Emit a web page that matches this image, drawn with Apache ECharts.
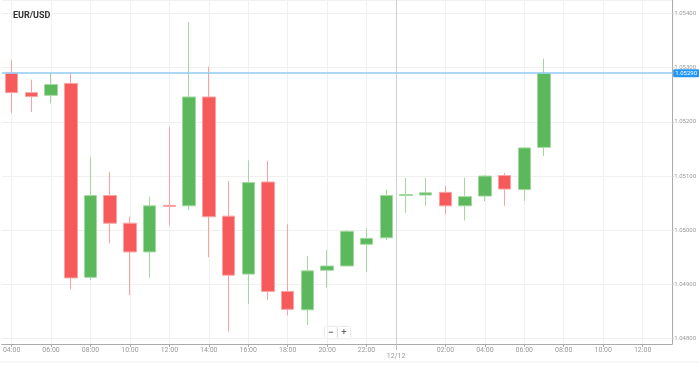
<!DOCTYPE html>
<html>
<head>
<meta charset="utf-8">
<script src="https://cdn.jsdelivr.net/npm/echarts@6/dist/echarts.min.js"></script>
<style>
html,body{margin:0;padding:0;background:#fff;}
#chart{width:699px;height:365px;}
</style>
</head>
<body>
<div id="chart"></div>
<script>
var times = ['04:00','05:00','06:00','07:00','08:00','09:00','10:00','11:00','12:00','13:00','14:00','15:00','16:00','17:00','18:00','19:00','20:00','21:00','22:00','23:00',
             '00:00','01:00','02:00','03:00','04:00','05:00','06:00','07:00','08:00','09:00','10:00','11:00','12:00','13:00'];
var dayBreakLabel = '12/12';
var openP  = [1.05290,1.05254,1.05249,1.05271,1.04913,1.05064,1.05013,1.04960,1.05046,1.05045,1.05246,1.05026,1.04919,1.05089,1.04887,1.04853,1.04926,1.04934,1.04974,1.04986,1.05064,1.05065,1.05070,1.05045,1.05063,1.05101,1.05075,1.05153];
var closeP = [1.05254,1.05247,1.05269,1.04912,1.05064,1.05013,1.04960,1.05045,1.05044,1.05246,1.05025,1.04917,1.05088,1.04887,1.04854,1.04925,1.04934,1.04998,1.04985,1.05064,1.05066,1.05069,1.05045,1.05062,1.05100,1.05076,1.05152,1.05290];
var highP  = [1.05314,1.05278,1.05290,1.05292,1.05135,1.05108,1.05025,1.05062,1.05191,1.05384,1.05302,1.05091,1.05129,1.05128,1.05011,1.04952,1.04963,1.05000,1.05004,1.05075,1.05097,1.05097,1.05082,1.05097,1.05102,1.05106,1.05153,1.05317];
var lowP   = [1.05216,1.05218,1.05234,1.04891,1.04908,1.04976,1.04880,1.04912,1.05009,1.05037,1.04950,1.04813,1.04864,1.04871,1.04843,1.04825,1.04894,1.04933,1.04923,1.04982,1.05032,1.05045,1.05029,1.05018,1.05054,1.05045,1.05054,1.05137];

var candles = openP.map(function(o, i){ return [o, closeP[i], lowP[i], highP[i]]; });
var lastClose = closeP[closeP.length - 1];
var breakIndex = times.indexOf('00:00');
var boundaries = [];
for (var i = 0; i <= times.length; i++) boundaries.push(i === breakIndex ? dayBreakLabel : '');

var evenHour = function(idx, val){ return idx !== breakIndex && parseInt(val, 10) % 2 === 0; };
var isBreak = function(idx){ return idx === breakIndex; };

var chart = echarts.init(document.getElementById('chart'), null, {renderer:'canvas'});
chart.setOption({
  animation:false,
  backgroundColor:'#ffffff',
  title:{text:'EUR/USD', left:8, top:6, textStyle:{fontSize:9, fontWeight:'bold', color:'#333', fontFamily:'Roboto'}},
  grid:{left:1, right:23, top:0, bottom:21},
  xAxis:[{
    type:'category', data:times, boundaryGap:true,
    axisLine:{lineStyle:{color:'#aaa', width:1}},
    axisTick:{show:true, alignWithLabel:true, interval:evenHour, length:3, lineStyle:{color:'#aaa'}},
    axisLabel:{interval:evenHour, fontSize:7, color:'#999', margin:3, fontFamily:'Roboto'},
    splitLine:{show:true, alignWithLabel:true, interval:evenHour, lineStyle:{color:'#f0f0f0', width:1}}
  },{
    type:'category', data:boundaries, boundaryGap:false, position:'bottom', gridIndex:0,
    axisLine:{show:false},
    axisTick:{show:true, interval:isBreak, length:6, lineStyle:{color:'#bbb'}},
    axisLabel:{interval:isBreak, fontSize:7, color:'#999', margin:9, fontFamily:'Roboto'},
    splitLine:{show:true, interval:isBreak, lineStyle:{color:'#d0d0d0', width:1}}
  }],
  yAxis:{
    type:'value', position:'right', min:1.04790, max:1.05425, scale:true,
    axisLine:{show:true, lineStyle:{color:'#aaa'}},
    axisTick:{show:true, length:2, lineStyle:{color:'#ccc'}},
    axisLabel:{fontSize:6, color:'#999', margin:2, showMinLabel:false, showMaxLabel:false, fontFamily:'Roboto',
      formatter:function(v){ return v.toFixed(5); }},
    splitLine:{show:true, lineStyle:{color:'#f0f0f0'}}
  },
  series:[{
    type:'candlestick', xAxisIndex:0, data:candles, barWidth:13,
    itemStyle:{color:'#5cb85c', color0:'#f65a5a', borderColor:'#a3d99f', borderColor0:'#f9a3a3', borderWidth:1},
    markLine:{
      silent:true, symbol:['none','none'], precision:5,
      lineStyle:{color:'#90cdf4', width:1.5, type:'solid'},
      label:{show:true, position:'end', distance:1, backgroundColor:'#2196f3', color:'#fff', fontSize:6, padding:[1,2],
        borderRadius:1, fontFamily:'Roboto', formatter:function(p){ return Number(p.value).toFixed(5); }},
      data:[{yAxis:lastClose}]
    }
  }],
  graphic:[
    {type:'line', shape:{x1:0, y1:362, x2:699, y2:362}, style:{stroke:'#eeeeee', lineWidth:1}},
    {type:'rect', shape:{x:325, y:327, width:12, height:11, r:1}, style:{fill:'#fff', shadowBlur:3, shadowColor:'rgba(0,0,0,0.2)'}},
    {type:'rect', shape:{x:338, y:327, width:12, height:11, r:1}, style:{fill:'#fff', shadowBlur:3, shadowColor:'rgba(0,0,0,0.2)'}},
    {type:'text', x:331, y:332.5, style:{text:'−', fontSize:9, fontWeight:'bold', fill:'#666', align:'center', verticalAlign:'middle'}},
    {type:'text', x:344, y:332.5, style:{text:'+', fontSize:9, fontWeight:'bold', fill:'#666', align:'center', verticalAlign:'middle'}}
  ]
});
</script>
</body>
</html>
